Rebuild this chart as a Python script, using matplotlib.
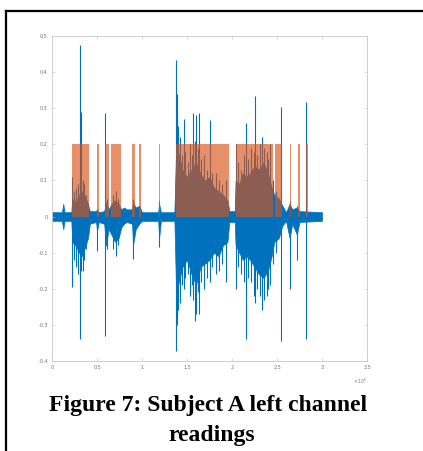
import numpy as np
import matplotlib.pyplot as plt
from matplotlib.lines import Line2D

# sample index is in units of 1e5
env_x = [0.00, 0.11, 0.125, 0.14, 0.215, 0.225, 0.26, 0.30, 0.33, 0.36, 0.40, 0.42,
         0.49, 0.50, 0.52, 0.58, 0.60, 0.63, 0.66, 0.70, 0.74, 0.77, 0.80, 0.83,
         0.89, 0.90, 0.93, 0.97, 1.00, 1.18, 1.19, 1.21, 1.36, 1.38, 1.41, 1.45,
         1.50, 1.55, 1.60, 1.65, 1.70, 1.75, 1.80, 1.85, 1.90, 1.95, 1.97, 2.03,
         2.04, 2.08, 2.12, 2.16, 2.20, 2.25, 2.30, 2.35, 2.40, 2.44, 2.47, 2.52,
         2.56, 2.60, 2.64, 2.67, 2.72, 2.75, 3.00]
env_hi = [0.012, 0.012, 0.035, 0.012, 0.012, 0.05, 0.04, 0.06, 0.07, 0.06, 0.035, 0.015,
          0.015, 0.02, 0.012, 0.015, 0.04, 0.02, 0.035, 0.045, 0.035, 0.02, 0.025, 0.02,
          0.02, 0.04, 0.025, 0.03, 0.012, 0.012, 0.035, 0.012, 0.012, 0.20, 0.17, 0.13,
          0.11, 0.13, 0.15, 0.12, 0.10, 0.11, 0.08, 0.07, 0.06, 0.045, 0.015, 0.015,
          0.10, 0.09, 0.12, 0.11, 0.12, 0.14, 0.13, 0.15, 0.12, 0.08, 0.06, 0.05,
          0.03, 0.012, 0.035, 0.02, 0.025, 0.015, 0.012]
env_lo = [-0.012, -0.012, -0.035, -0.012, -0.012, -0.07, -0.08, -0.10, -0.11, -0.09, -0.06, -0.02,
          -0.015, -0.04, -0.015, -0.02, -0.08, -0.035, -0.05, -0.07, -0.06, -0.03, -0.02, -0.015,
          -0.02, -0.08, -0.035, -0.02, -0.012, -0.012, -0.06, -0.012, -0.012, -0.22, -0.18, -0.14,
          -0.12, -0.16, -0.19, -0.14, -0.13, -0.12, -0.10, -0.11, -0.08, -0.07, -0.015, -0.015,
          -0.08, -0.10, -0.12, -0.11, -0.12, -0.14, -0.16, -0.17, -0.15, -0.11, -0.07, -0.06,
          -0.025, -0.012, -0.06, -0.02, -0.05, -0.015, -0.012]

spike_x = [0.218, 0.24, 0.27, 0.29, 0.311, 0.318, 0.34, 0.36, 0.38, 0.497, 0.589, 0.61,
           0.68, 0.71, 0.73, 0.90, 1.19,
           1.378, 1.385, 1.39, 1.40, 1.42, 1.44, 1.467, 1.48, 1.51, 1.53, 1.55, 1.57,
           1.59, 1.60, 1.62, 1.63, 1.66, 1.69, 1.72, 1.756, 1.78, 1.82, 1.86, 1.89, 1.93,
           2.05, 2.07, 2.10, 2.13, 2.15, 2.18, 2.21, 2.24, 2.26, 2.28, 2.31, 2.33,
           2.36, 2.385, 2.40, 2.42, 2.45, 2.49, 2.54, 2.645, 2.72, 2.82]
spike_hi = [0.11, 0.07, 0.08, 0.09, 0.475, 0.29, 0.10, 0.09, 0.06, 0.02, 0.286, 0.05,
            0.06, 0.07, 0.05, 0.05, 0.044,
            0.433, 0.30, 0.34, 0.25, 0.22, 0.17, 0.27, 0.18, 0.15, 0.20, 0.17, 0.286,
            0.21, 0.28, 0.19, 0.286, 0.16, 0.17, 0.13, 0.267, 0.12, 0.12, 0.10, 0.09, 0.10,
            0.20, 0.15, 0.13, 0.17, 0.26, 0.16, 0.19, 0.18, 0.335, 0.17, 0.20, 0.22,
            0.19, 0.18, 0.16, 0.20, 0.10, 0.07, 0.304, 0.044, 0.03, 0.318]
spike_lo = [-0.196, -0.12, -0.14, -0.16, -0.34, -0.15, -0.15, -0.12, -0.09, -0.094, -0.33, -0.09,
            -0.09, -0.11, -0.08, -0.118, -0.085,
            -0.372, -0.30, -0.29, -0.26, -0.24, -0.19, -0.20, -0.17, -0.16, -0.22, -0.19, -0.23,
            -0.29, -0.27, -0.21, -0.27, -0.18, -0.20, -0.17, -0.18, -0.14, -0.16, -0.15, -0.13, -0.18,
            -0.20, -0.14, -0.16, -0.18, -0.34, -0.17, -0.18, -0.22, -0.24, -0.20, -0.22, -0.26,
            -0.23, -0.22, -0.20, -0.19, -0.13, -0.10, -0.344, -0.20, -0.12, -0.34]

# detected regions (start, end)
seg_start = [0.226, 0.497, 0.585, 0.656, 0.893, 0.97, 1.19, 1.374, 2.04, 2.474, 2.64, 2.733, 2.822]
seg_end = [0.415, 0.519, 0.63, 0.763, 0.922, 0.99, 1.197, 1.967, 2.45, 2.559, 2.66, 2.752, 2.84]
seg_level = 0.2

xticks = [0, 0.5, 1, 1.5, 2, 2.5, 3, 3.5]
xtick_labels = ['0', '0.5', '1', '1.5', '2', '2.5', '3', '3.5']
yticks = [-0.4, -0.3, -0.2, -0.1, 0, 0.1, 0.2, 0.3, 0.4, 0.5]
ytick_labels = ['-0.4', '-0.3', '-0.2', '-0.1', '0', '0.1', '0.2', '0.3', '0.4', '0.5']

blue = '#0072BD'
orange = '#D95319'

fig = plt.figure(figsize=(4.23, 4.51), dpi=100)
ax = fig.add_axes([52 / 423, 1 - 361 / 451, 315 / 423, 325 / 451])

ax.fill_between(env_x, env_lo, env_hi, color=blue, lw=0.5, edgecolor=blue, zorder=1)
ax.vlines(spike_x, spike_lo, spike_hi, color=blue, lw=0.8, zorder=2)
widths = [e - s for s, e in zip(seg_start, seg_end)]
ax.bar(seg_start, [seg_level] * len(seg_start), width=widths, align='edge',
       color=orange, alpha=0.65, lw=0, zorder=3)

ax.set_xlim(0, 3.5)
ax.set_ylim(-0.4, 0.5)
ax.set_xticks(xticks)
ax.set_xticklabels(xtick_labels)
ax.set_yticks(yticks)
ax.set_yticklabels(ytick_labels)
ax.tick_params(direction='in', length=2, width=0.4, colors='#c0c0c0',
               labelcolor='#707070', labelsize=3.5, pad=3,
               top=True, right=True)
for sp in ax.spines.values():
    sp.set_color('#c8c8c8')
    sp.set_linewidth(0.6)
ax.text(3.5, -0.455, r'$\times10^5$', fontsize=3.5, color='#808080', ha='right', va='center')

# caption and page frame
fig.text(208 / 423, 1 - 406 / 451, 'Figure 7: Subject A left channel', ha='center', va='center',
         fontsize=17, fontweight='bold', family='Liberation Serif')
fig.text(212 / 423, 1 - 436 / 451, 'readings', ha='center', va='center',
         fontsize=17, fontweight='bold', family='Liberation Serif')
fig.add_artist(Line2D([6 / 423, 6 / 423], [0, 1 - 11 / 451], color='black', lw=1.6))
fig.add_artist(Line2D([6 / 423, 1], [1 - 11 / 451, 1 - 11 / 451], color='black', lw=1.6))

fig.savefig('out.png', dpi=100)
